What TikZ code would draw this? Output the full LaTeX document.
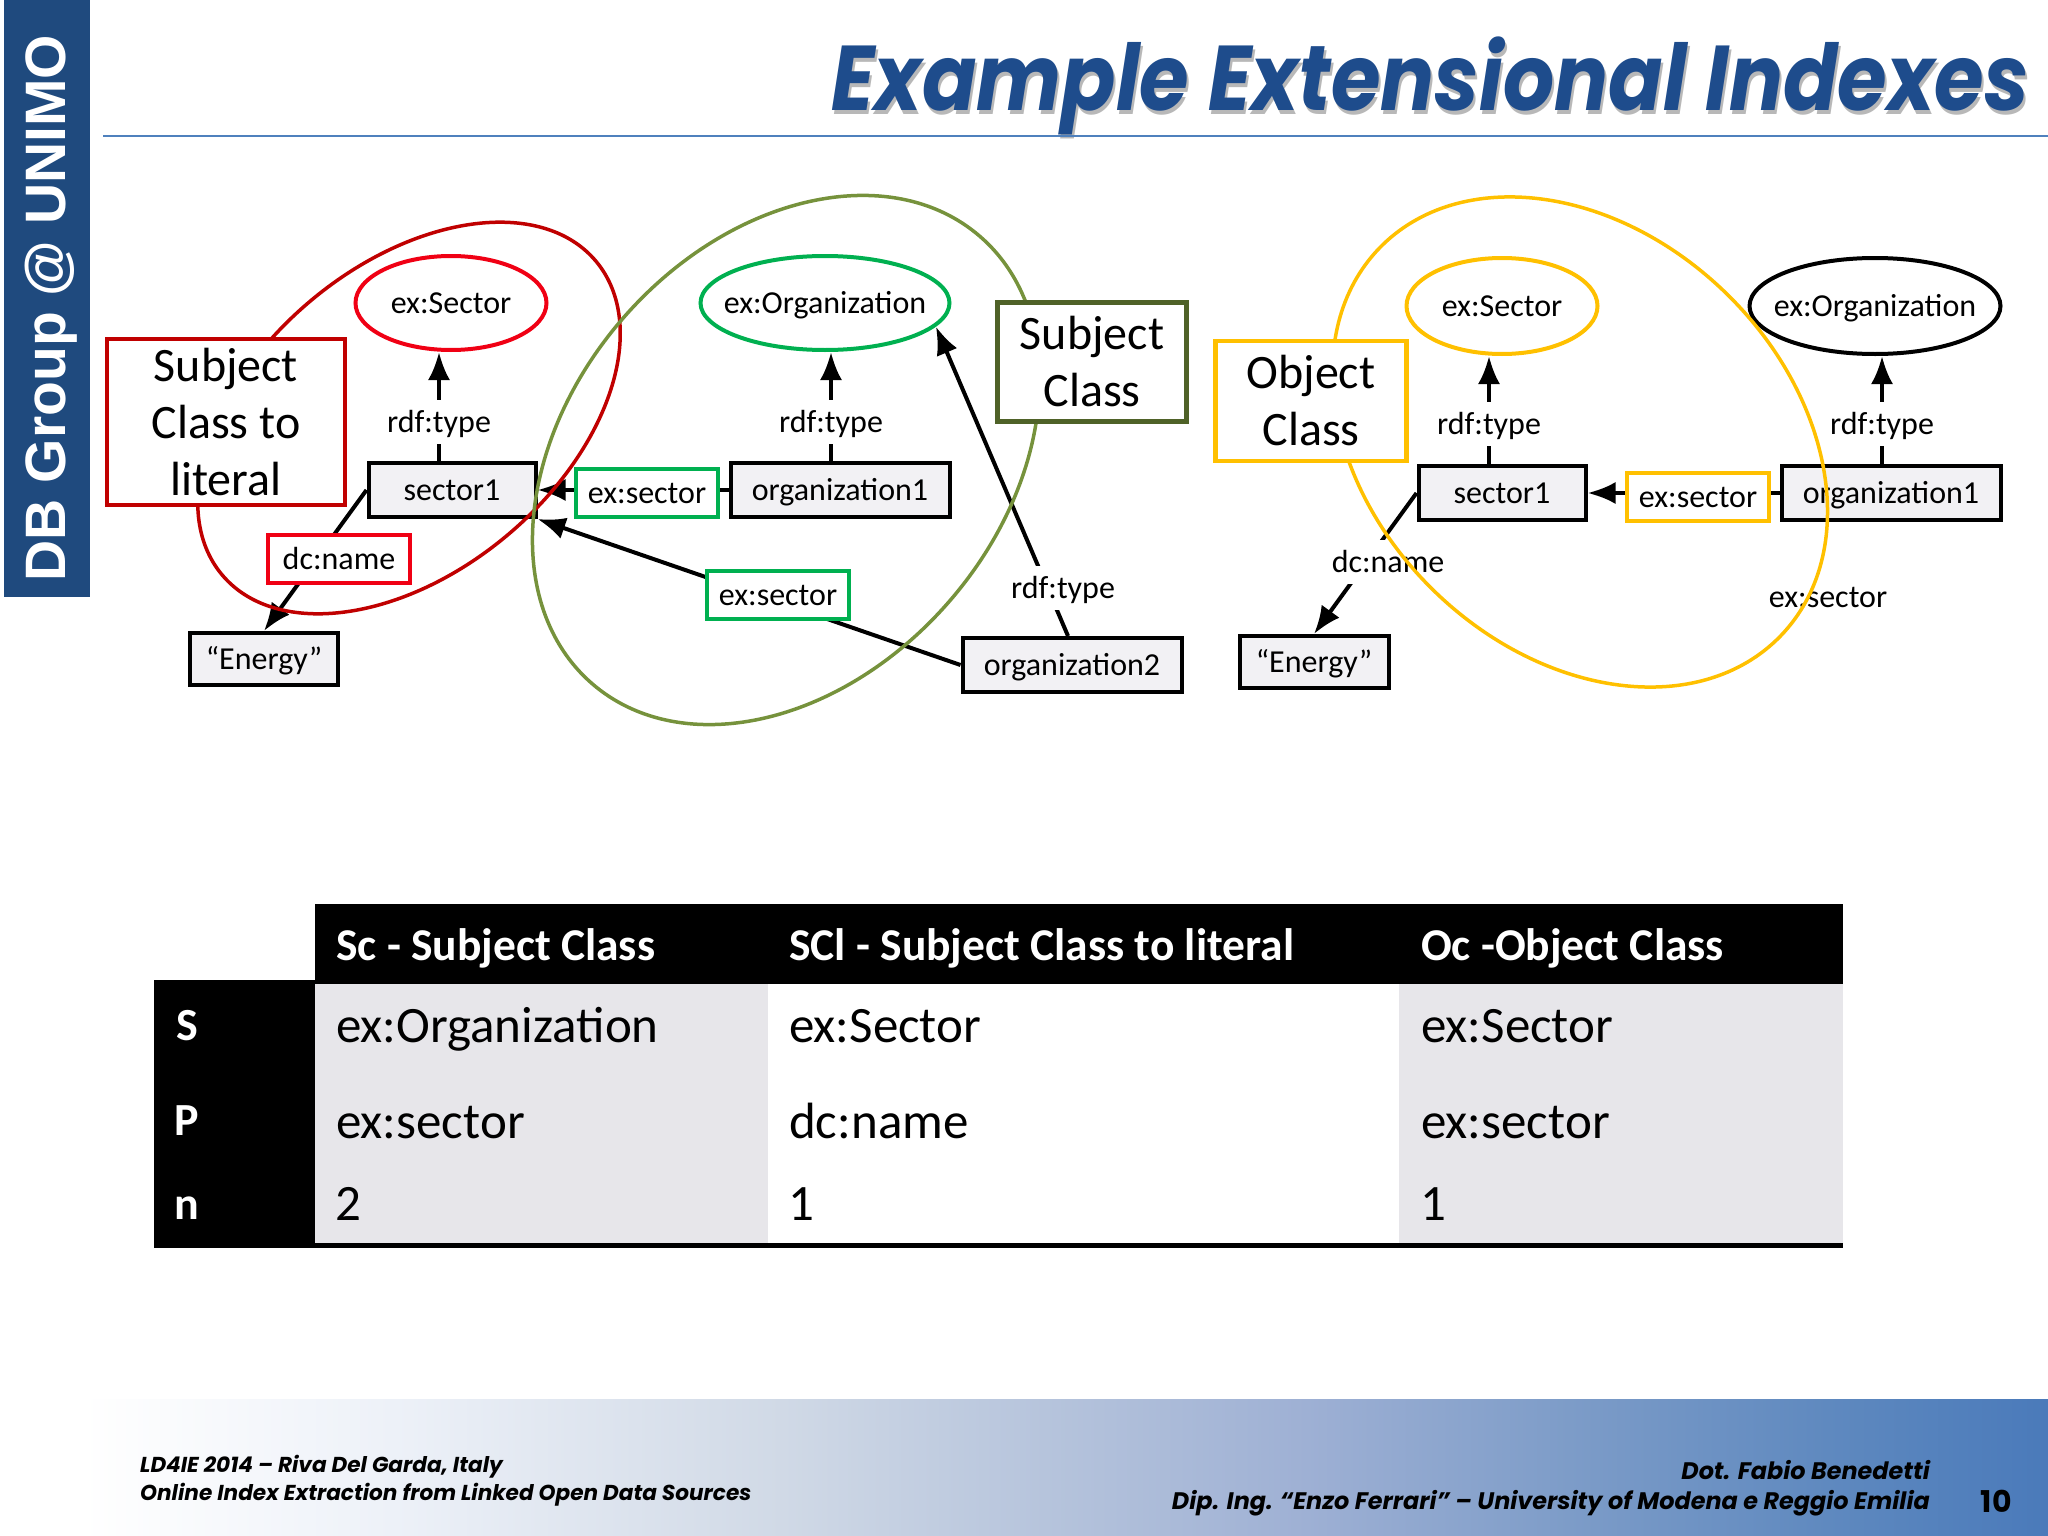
\documentclass[tikz,border=0pt]{standalone}
\usepackage{fontspec}
\setmainfont{Carlito}
\newfontfamily\gothfont{Poppins}
\newfontfamily\sidefont{Liberation Sans}
\usetikzlibrary{shapes,arrows,positioning,calc,arrows.meta}
\definecolor{unimoblue}{RGB}{31,74,126}
\definecolor{titleblue}{RGB}{30,76,140}
\definecolor{ruleblue}{RGB}{79,129,189}
\definecolor{litred}{RGB}{192,0,0}
\definecolor{sectorred}{RGB}{240,0,20}
\definecolor{orggreen}{RGB}{0,176,80}
\definecolor{hullolive}{RGB}{118,146,60}
\definecolor{classolive}{RGB}{79,98,40}
\definecolor{objyellow}{RGB}{255,192,0}
\definecolor{cellgray}{RGB}{231,230,234}
\definecolor{instgray}{RGB}{242,241,244}
\definecolor{foota}{RGB}{237,241,248}
\definecolor{footb}{RGB}{208,217,230}
\definecolor{footc}{RGB}{182,196,220}
\definecolor{footd}{RGB}{158,176,212}
\definecolor{foote}{RGB}{125,156,200}
\definecolor{footf}{RGB}{95,137,191}
\definecolor{footg}{RGB}{74,122,186}
\pgfdeclarehorizontalshading{footshade}{100bp}{
    color(0bp)=(white); color(27bp)=(white); color(34.6bp)=(foota);
    color(44.1bp)=(footb); color(50.5bp)=(footc);
    color(56.9bp)=(footd); color(63.3bp)=(foote);
    color(69.6bp)=(footf); color(75bp)=(footg);
    color(100bp)=(footg)}

\begin{document}
\begin{tikzpicture}[
    x=1pt, y=-1pt,
    typenode/.style={ellipse, draw, line width=4pt, inner sep=-15pt, text height=27pt, text depth=6.5pt, font=\fontsize{32}{38}\selectfont},
    instance/.style={rectangle, draw=black, fill=instgray, line width=4pt, inner sep=0pt, minimum height=54pt, text height=27pt, text depth=6.5pt, font=\fontsize{32}{38}\selectfont},
    prop/.style={rectangle, draw, fill=white, line width=4pt, inner sep=0pt, minimum width=142pt, minimum height=48pt, text height=27pt, text depth=6.5pt, font=\fontsize{32}{38}\selectfont},
    lbl/.style={inner sep=0pt, text height=27pt, text depth=6.5pt, font=\fontsize{32}{38}\selectfont, minimum width=110pt, minimum height=44pt},
    classbox/.style={rectangle, draw, fill=white, line width=4.5pt, inner sep=0pt, align=center, font=\fontsize{48}{57}\selectfont},
    hull/.style={ellipse, draw, line width=3.5pt, inner sep=0pt},
    edge/.style={-{Latex[length=28pt,width=22pt]}, line width=4pt},
    plain/.style={line width=4pt},
    headcell/.style={anchor=base west, inner sep=0pt, text=white, font=\fontsize{45.5}{52}\selectfont\bfseries},
    bodycell/.style={anchor=base west, inner sep=0pt, font=\fontsize{51}{58}\selectfont},
    sidecell/.style={inner sep=0pt, anchor=base, text=white, font=\fontsize{46}{52}\selectfont\bfseries},
    footl/.style={inner sep=0pt, anchor=base west, text=black, font=\gothfont\fontsize{21.6}{26}\selectfont\bfseries\itshape},
    footr/.style={inner sep=0pt, anchor=base east, text=black, font=\gothfont\fontsize{23.9}{28}\selectfont\bfseries\itshape}
]
\useasboundingbox (0,0) rectangle (2048,1536);

% Side bar and title
\fill[unimoblue] (4,0) rectangle (90,597);
\node[rotate=90, inner sep=0pt, text=white, font=\sidefont\fontsize{57}{60}\selectfont\bfseries] (sidebar) at (51,308) {DB Group @ UNIMO};
\node[anchor=base east, xscale=0.873, inner sep=0pt, text=black!28, font=\gothfont\fontsize{92}{100}\selectfont\bfseries\itshape] (titleshadow) at (2031,115) {Example Extensional Indexes};
\node[anchor=base east, xscale=0.873, inner sep=0pt, text=titleblue, font=\gothfont\fontsize{92}{100}\selectfont\bfseries\itshape] (title) at (2029,111) {Example Extensional Indexes};
\draw[ruleblue, line width=2pt] (103,136) -- (2048,136);

% Left graph
\node[typenode, draw=sectorred, minimum width=191pt, minimum height=94pt] (sectorA) at (451,303) {ex:Sector};
\node[typenode, draw=orggreen, minimum width=249pt, minimum height=94pt] (orgA) at (825,303) {ex:Organization};
\node[instance, minimum width=167pt] (sectoroneA) at (452,490) {sector1};
\node[instance, minimum width=219pt] (orgoneA) at (840,490) {organization1};
\node[instance, minimum width=219pt] (orgtwoA) at (1072,665) {organization2};
\node[instance, minimum width=148pt, minimum height=52pt] (energyA) at (264,659) {“Energy”};
\node[lbl] (rdfsectorA) at (439,422) {rdf:type};
\node[lbl] (rdforgA) at (831,422) {rdf:type};

\draw[edge] (rdfsectorA.north) -- (rdfsectorA |- sectorA.south);
\draw[plain] (rdfsectorA.south) -- (rdfsectorA |- sectoroneA.north);
\draw[edge] (rdforgA.north) -- (rdforgA |- orgA.south);
\draw[plain] (rdforgA.south) -- (rdforgA |- orgoneA.north);
\draw[edge] (orgoneA.west) -- (sectoroneA.east);
\draw[edge] (orgtwoA.west) -- (sectoroneA.south east);
\draw[edge] ([xshift=-4pt]orgtwoA.north) -- (orgA.-12);
\draw[edge] (sectoroneA.west) -- (energyA.north);

\node[lbl, fill=white] (rdftwoA) at (1063,588) {rdf:type};
\node[prop, draw=orggreen] (exsectorA) at (647,493) {ex:sector};
\node[prop, draw=orggreen] (exsectorB) at (778,595) {ex:sector};
\node[prop, draw=sectorred] (dcnameA) at (339,559) {dc:name};

\node[hull, draw=litred, rotate=40, minimum width=488pt, minimum height=306pt] (hulllit) at (409,418) {};
\node[hull, draw=hullolive, rotate=49, minimum width=592pt, minimum height=432pt] (hullsubj) at (786,460) {};
\node[classbox, draw=litred, minimum width=238pt, minimum height=166pt] (litbox) at (226,422) {Subject\\Class to\\literal};
\node[classbox, draw=classolive, minimum width=189pt, minimum height=119pt] (subjbox) at (1092,362) {Subject\\Class};

% Right graph
\node[typenode, draw=objyellow, minimum width=191pt, minimum height=96pt] (sectorC) at (1502,306) {ex:Sector};
\node[typenode, draw=black, minimum width=251pt, minimum height=96pt] (orgC) at (1875,306) {ex:Organization};
\node[instance, minimum width=167pt] (sectoroneC) at (1502,493) {sector1};
\node[instance, minimum width=219pt] (orgoneC) at (1891,493) {organization1};
\node[instance, minimum width=149pt, minimum height=52pt] (energyC) at (1314,662) {“Energy”};
\node[lbl] (rdfsectorC) at (1489,424) {rdf:type};
\node[lbl] (rdforgC) at (1882,424) {rdf:type};

\draw[edge] (rdfsectorC.north) -- (rdfsectorC |- sectorC.south);
\draw[plain] (rdfsectorC.south) -- (rdfsectorC |- sectoroneC.north);
\draw[edge] (rdforgC.north) -- (rdforgC |- orgC.south);
\draw[plain] (rdforgC.south) -- (rdforgC |- orgoneC.north);
\draw[edge] (orgoneC.west) -- (sectoroneC.east);
\draw[edge] (sectoroneC.west) -- (energyC.north);

\node[prop, draw=objyellow] (exsectorC) at (1698,497) {ex:sector};
\node[lbl, fill=white] (dcnameC) at (1388,562) {dc:name};
\node[lbl] (exsectorD) at (1828,597) {ex:sector};

\node[hull, draw=objyellow, rotate=-44, minimum width=558pt, minimum height=417pt] (hullobj) at (1580,442) {};
\node[classbox, draw=objyellow, minimum width=191pt, minimum height=120pt] (objbox) at (1311,401) {Object\\Class};

% Table
\fill[black] (315,904) rectangle (1843,984);
\fill[black] (154,980) rectangle (315,1247);
\fill[cellgray] (315,984) rectangle (768,1244);
\fill[cellgray] (1399,984) rectangle (1843,1244);
\draw[black, line width=5pt] (154,1245) -- (1843,1245);

\node[headcell] (headsc) at (336,960) {Sc - Subject Class};
\node[headcell] (headscl) at (789,960) {SCl - Subject Class to literal};
\node[headcell] (headoc) at (1421,960) {Oc -Object Class};

\node[sidecell] (rows) at (187,1040) {S};
\node[sidecell] (rowp) at (187,1135) {P};
\node[sidecell] (rown) at (187,1219) {n};

\node[bodycell] (sclass) at (336,1042) {ex:Organization};
\node[bodycell] (pclass) at (336,1138) {ex:sector};
\node[bodycell] (nclass) at (335,1220) {2};
\node[bodycell] (slit) at (789,1042) {ex:Sector};
\node[bodycell] (plit) at (789,1138) {dc:name};
\node[bodycell] (nlit) at (788,1220) {1};
\node[bodycell] (sobj) at (1421,1042) {ex:Sector};
\node[bodycell] (pobj) at (1421,1138) {ex:sector};
\node[bodycell] (nobj) at (1420,1220) {1};

% Footer
\shade[shading=footshade] (0,1399) rectangle (2048,1536);
\node[footl] (leftfoota) at (140,1472) {LD4IE 2014 – Riva Del Garda, Italy};
\node[footl] (leftfootb) at (140,1500) {Online Index Extraction from Linked Open Data Sources};
\node[footr] (rightfoota) at (1930,1479) {Dot. Fabio Benedetti};
\node[footr] (rightfootb) at (1930,1509) {Dip. Ing. “Enzo Ferrari” – University of Modena e Reggio Emilia};
\node[footr, font=\gothfont\fontsize{30}{34}\selectfont\bfseries] (pagenum) at (2012,1512) {10};

\end{tikzpicture}
\end{document}
